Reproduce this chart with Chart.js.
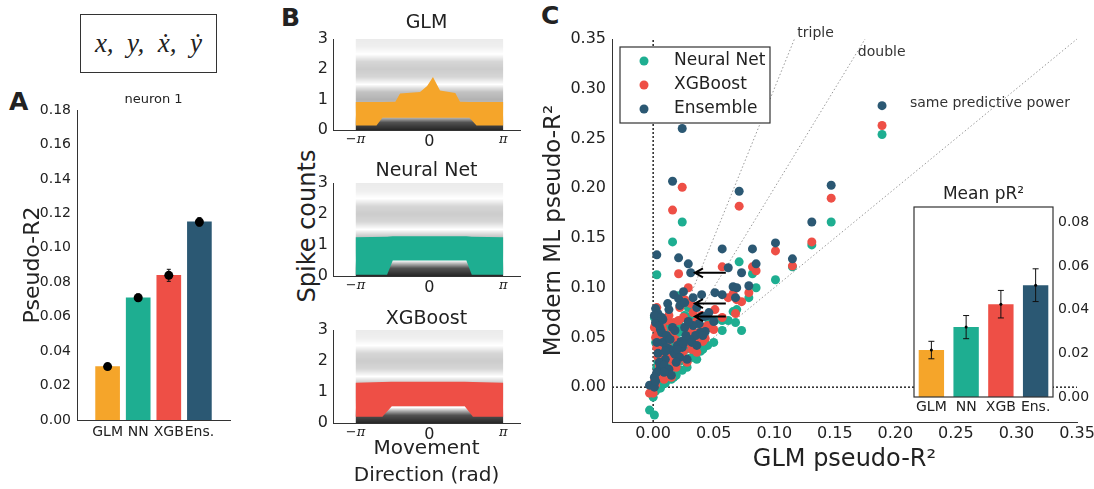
<!DOCTYPE html>
<html>
<head>
<meta charset="utf-8">
<title>Model comparison, pseudo-R2</title>
<script src="https://cdn.jsdelivr.net/npm/chart.js@4.4.1/dist/chart.umd.min.js"></script>
<style>
  html, body { margin: 0; padding: 0; background: #fff; overflow: hidden; }
  body { width: 1094px; height: 489px; position: relative; font-family: 'DejaVu Sans', sans-serif; color: #222; }
  .panel { position: absolute; }
  .letter { position: absolute; font-weight: bold; font-size: 25px; line-height: 25px; }
  #varbox {
    position: absolute; left: 80px; top: 14px; width: 135px; height: 57px;
    border: 1.5px solid #333; display: flex; align-items: center; justify-content: center;
    font-family: 'Liberation Serif', serif; font-style: italic; font-size: 27px;
  }
  #spike-label {
    position: absolute; left: 307px; top: 226px; font-size: 24px; white-space: nowrap;
    transform: translate(-50%, -50%) rotate(-90deg);
  }
</style>
</head>
<body>

<div id="varbox">x,&nbsp; y,&nbsp; ẋ,&nbsp; ẏ</div>
<div class="letter" style="left:9px; top:89px;">A</div>
<div class="letter" style="left:281px; top:5px;">B</div>
<div class="letter" style="left:541px; top:3px;">C</div>
<div id="spike-label">Spike counts</div>

<canvas class="panel" id="neuronChart" width="235" height="370" style="left:0; top:80px;"></canvas>
<canvas class="panel" id="glmSpikes" width="245" height="150" style="left:280px; top:0;"></canvas>
<canvas class="panel" id="nnSpikes" width="245" height="150" style="left:280px; top:146px;"></canvas>
<canvas class="panel" id="xgbSpikes" width="245" height="197" style="left:280px; top:292px;"></canvas>
<canvas class="panel" id="allNeurons" width="570" height="489" style="left:540px; top:0;"></canvas>
<canvas class="panel" id="meanChart" width="189" height="240" style="left:905px; top:180px;"></canvas>

<script>
// ---------------- data ----------------
const models = ['GLM', 'NN', 'XGB', 'Ens.'];
const modelColors = ['#f5a52a', '#1eae91', '#ee4f46', '#2b5873'];

// neuron 1: pseudo-R2 per model and its error
const neuron1Mean = [0.031, 0.071, 0.084, 0.115];
const neuron1Err = [0.0012, 0.0022, 0.0035, 0.0025];
const neuron1Ticks = [0, 0.02, 0.04, 0.06, 0.08, 0.10, 0.12, 0.14, 0.16, 0.18];

// observed spike counts vs movement direction (relative darkness of each count row)
const spikeLevels = [0, 1, 2, 3];
const spikeDensity = [0.85, 0.3, 0.2, 0.08];
const countTicks = [0, 1, 2, 3];
const dirTicks = [-Math.PI, 0, Math.PI];
const dirTickLabels = ['−π', '0', 'π'];

// predicted spike-count band for each model (edges along direction)
const glmBandX = [-Math.PI, -2.25, -2.0, -1.45, -1.25, -0.4, -0.1, 0.15, 0.45, 1.1, 1.3, 1.7, 2.0, Math.PI];
const glmBandTop = [0.92, 0.92, 0.92, 0.93, 1.2, 1.25, 1.45, 1.75, 1.3, 1.22, 0.93, 0.92, 0.92, 0.92];
const glmBandLow = [0.15, 0.15, 0.4, 0.4, 0.4, 0.4, 0.4, 0.4, 0.4, 0.4, 0.4, 0.4, 0.15, 0.15];

const nnBandX = [-Math.PI, -1.8, -1.56, 1.57, 1.8, Math.PI];
const nnBandTop = [1.25, 1.27, 1.28, 1.28, 1.27, 1.25];
const nnBandLow = [0.04, 0.04, 0.5, 0.5, 0.04, 0.04];

const xgbBandX = [-Math.PI, -2.0, -1.6, 1.5, 1.85, Math.PI];
const xgbBandTop = [1.3, 1.32, 1.33, 1.33, 1.32, 1.3];
const xgbBandLow = [0.2, 0.2, 0.54, 0.54, 0.2, 0.2];

// every recorded neuron: GLM pseudo-R2 and the three ML models' pseudo-R2
const glmPR2 = [0.189, 0.147, 0.131, 0.115, 0.101, 0.071, 0.024, 0.016, 0.003, 0.021,
  0.029, 0.031, 0.057, 0.062, 0.082, 0.085, 0.073, 0.066, 0.069, 0.079,
  0.068, 0.057, 0.051, 0.040, 0.033, 0.025, 0.017, 0.021, 0.012, 0.002,
  0.004, 0.038, 0.042, 0.046, 0.035, 0.026, 0.039, 0.043, 0.030, 0.024,
  0.017, 0.010, 0.006, 0.000, -0.003, 0.001, 0.008, 0.012, 0.014, 0.018,
  0.020, 0.022, 0.005, 0.003, 0.007, 0.009, 0.011, 0.013, 0.015, 0.001,
  0.002, 0.004, 0.016, 0.019, 0.023, 0.027, 0.028, 0.006, 0.010, 0.050,
  0.036, 0.045, 0.001, 0.033, 0.005, 0.008, 0.011, 0.014, 0.018, 0.020,
  0.025, 0.029, 0.032, 0.003, 0.007, 0.013, 0.022, 0.026, 0.009, 0.002,
  0.036, 0.041];
const nnPR2 = [0.254, 0.166, 0.143, 0.121, 0.108, 0.126, 0.166, 0.146, 0.113, 0.092,
  0.080, 0.071, 0.057, 0.067, 0.114, 0.100, 0.057, 0.076, 0.078, 0.090,
  0.065, 0.067, 0.067, 0.060, 0.063, 0.058, 0.050, 0.055, 0.048, 0.045,
  0.040, 0.046, 0.052, 0.067, 0.036, 0.056, 0.036, 0.044, 0.029, 0.017,
  0.010, 0.004, -0.001, -0.010, -0.023, -0.028, 0.020, 0.025, 0.030, 0.022,
  0.035, 0.026, 0.015, 0.008, 0.030, 0.012, 0.035, 0.018, 0.008, 0.002,
  0.060, 0.025, 0.040, 0.012, 0.045, 0.038, 0.020, 0.050, 0.022, 0.045,
  0.052, 0.042, 0.070, 0.040, 0.035, 0.045, 0.028, 0.020, 0.032, 0.018,
  0.030, 0.042, 0.030, 0.020, 0.055, 0.060, 0.062, 0.072, 0.004, -0.004,
  0.028, 0.038];
const xgbPR2 = [0.263, 0.190, 0.146, 0.122, 0.137, 0.182, 0.201, 0.178, 0.080, 0.114,
  0.100, 0.084, 0.121, 0.090, 0.121, 0.117, 0.086, 0.094, 0.088, 0.095,
  0.074, 0.070, 0.078, 0.072, 0.075, 0.070, 0.065, 0.067, 0.067, 0.064,
  0.054, 0.055, 0.060, 0.060, 0.044, 0.047, 0.050, 0.049, 0.044, 0.030,
  0.025, 0.018, 0.010, -0.006, -0.006, 0.001, 0.035, 0.040, 0.028, 0.030,
  0.038, 0.033, 0.022, 0.012, 0.045, 0.020, 0.030, 0.015, 0.010, 0.006,
  0.050, 0.030, 0.055, 0.020, 0.040, 0.045, 0.025, 0.040, 0.032, 0.058,
  0.066, 0.062, 0.060, 0.055, 0.050, 0.058, 0.045, 0.035, 0.048, 0.026,
  0.036, 0.058, 0.038, 0.040, 0.062, 0.072, 0.080, 0.088, 0.008, 0.002,
  0.035, 0.046];
const ensPR2 = [0.283, 0.203, 0.166, 0.129, 0.145, 0.197, 0.260, 0.207, 0.133, 0.130,
  0.124, 0.115, 0.139, 0.120, 0.139, 0.124, 0.115, 0.101, 0.100, 0.102,
  0.090, 0.093, 0.095, 0.093, 0.090, 0.096, 0.093, 0.089, 0.084, 0.079,
  0.074, 0.064, 0.071, 0.075, 0.052, 0.060, 0.055, 0.056, 0.048, 0.040,
  0.035, 0.028, 0.020, 0.003, 0.002, 0.000, 0.045, 0.050, 0.038, 0.033,
  0.042, 0.030, 0.025, 0.015, 0.055, 0.022, 0.040, 0.018, 0.012, 0.010,
  0.065, 0.034, 0.060, 0.025, 0.046, 0.052, 0.028, 0.058, 0.036, 0.066,
  0.080, 0.072, 0.072, 0.062, 0.062, 0.068, 0.052, 0.048, 0.057, 0.038,
  0.044, 0.066, 0.045, 0.045, 0.070, 0.078, 0.082, 0.085, 0.015, 0.006,
  0.042, 0.052];
const neuron1Index = 11;

// reference lines: ML pseudo-R2 = ratio * GLM pseudo-R2
const ratioLines = [1, 2, 3];
const ratioNames = ['same predictive power', 'double', 'triple'];
const pr2Ticks = [0, 0.05, 0.10, 0.15, 0.20, 0.25, 0.30, 0.35];

// mean pseudo-R2 over all neurons
const meanPR2 = [0.0215, 0.032, 0.0425, 0.0512];
const meanErr = [0.004, 0.0053, 0.0063, 0.0075];
const meanTicks = [0, 0.02, 0.04, 0.06, 0.08];

// ---------------- helpers ----------------
Chart.defaults.font.family = "'DejaVu Sans', sans-serif";
Chart.defaults.color = '#222';
Chart.defaults.animation = false;
Chart.defaults.devicePixelRatio = 1;
Chart.defaults.plugins.legend.display = false;
Chart.defaults.plugins.tooltip.enabled = false;

const AXIS = '#333';
const zip = (xs, ys) => xs.map((x, i) => ({ x, y: ys[i] }));
const fixedTicks = (values) => (scale) => { scale.ticks = values.map(v => ({ value: v })); };

// title centred over the plot area (not the whole canvas)
const areaTitle = {
  id: 'areaTitle',
  afterDraw(chart, args, opts) {
    if (!opts.text) return;
    const { ctx, chartArea: a } = chart;
    ctx.save();
    ctx.font = `${opts.size}px 'DejaVu Sans', sans-serif`;
    ctx.fillStyle = '#222';
    ctx.textAlign = 'center';
    ctx.textBaseline = 'middle';
    ctx.fillText(opts.text, (a.left + a.right) / 2, a.top - opts.offset);
    ctx.restore();
  }
};

// black markers with vertical error lines, drawn on top of bars
function errorBarPlugin(means, errs, xOf, opts) {
  return {
    id: 'errorBars',
    afterDatasetsDraw(chart) {
      const { ctx, scales: { x, y } } = chart;
      ctx.save();
      ctx.strokeStyle = '#111';
      ctx.fillStyle = '#000';
      ctx.lineWidth = opts.width;
      means.forEach((m, i) => {
        const px = x.getPixelForValue(xOf(i));
        const top = y.getPixelForValue(m + errs[i]);
        const bot = y.getPixelForValue(m - errs[i]);
        ctx.beginPath();
        ctx.moveTo(px, top); ctx.lineTo(px, bot);
        ctx.moveTo(px - opts.cap, top); ctx.lineTo(px + opts.cap, top);
        ctx.moveTo(px - opts.cap, bot); ctx.lineTo(px + opts.cap, bot);
        ctx.stroke();
        if (opts.dot) {
          ctx.beginPath();
          ctx.arc(px, y.getPixelForValue(m), opts.dot, 0, Math.PI * 2);
          ctx.fill();
        }
      });
      ctx.restore();
    }
  };
}

// ---------------- A: neuron 1 ----------------
new Chart(document.getElementById('neuronChart'), {
  type: 'bar',
  data: {
    labels: ['', ...models, ''],
    datasets: [{
      data: [null, ...neuron1Mean, null],
      backgroundColor: ['transparent', ...modelColors, 'transparent'],
      barThickness: 24
    }]
  },
  options: {
    responsive: false,
    layout: { padding: { top: 30, right: 5 } },
    plugins: { areaTitle: { text: 'neuron 1', size: 13, offset: 10 } },
    scales: {
      x: {
        offset: false,
        grid: { display: false, drawTicks: false },
        border: { color: AXIS },
        ticks: { font: { size: 14 }, padding: 4, autoSkip: false, maxRotation: 0 },
        afterFit: (s) => { s.height = 30; }
      },
      y: {
        min: 0, max: 0.18,
        afterBuildTicks: fixedTicks(neuron1Ticks),
        grid: { display: false, drawTicks: false },
        border: { color: AXIS },
        ticks: { font: { size: 14 }, padding: 6, callback: (v) => v.toFixed(2) },
        title: { display: true, text: 'Pseudo-R2', font: { size: 22 }, padding: { top: 20, bottom: 0 } },
        afterFit: (s) => { s.width = 77; }
      }
    }
  },
  plugins: [areaTitle, errorBarPlugin(neuron1Mean, neuron1Err, (i) => i + 1, { width: 1, cap: 2, dot: 4.5 })]
});

// ---------------- B: spike counts vs direction ----------------
// soft vertical shading: one fuzzy row per observed count
function spikeCloud(context) {
  const chart = context.chart;
  const { ctx, chartArea, scales: { y } } = chart;
  if (!chartArea) return 'rgba(0,0,0,0.2)';
  const y0 = y.getPixelForValue(0);
  const y3 = y.getPixelForValue(3);
  const g = ctx.createLinearGradient(0, y0, 0, y3);
  const profile = [[-0.5, 0], [-0.38, 0.4], [-0.25, 0.8], [0, 1], [0.25, 0.8], [0.38, 0.4], [0.5, 0]];
  spikeLevels.forEach((lvl, i) => {
    profile.forEach(([dy, k]) => {
      const v = lvl + dy;
      if (v >= 0 && v <= 3) g.addColorStop(v / 3, `rgba(0,0,0,${(spikeDensity[i] * k).toFixed(3)})`);
    });
  });
  return g;
}

function spikeChart(id, title, color, bandX, bandTop, bandLow, layout) {
  const xTitle = layout.xTitle
    ? { display: true, text: layout.xTitle, font: { size: 20, lineHeight: 1.35 }, padding: { top: 0, bottom: 0 } }
    : { display: false };
  return new Chart(document.getElementById(id), {
    type: 'line',
    data: {
      datasets: [
        {
          // observed counts
          data: [{ x: -Math.PI, y: 3 }, { x: Math.PI, y: 3 }],
          fill: 'origin', backgroundColor: spikeCloud, borderWidth: 0, pointRadius: 0, order: 2
        },
        {
          data: zip(bandX, bandLow), borderWidth: 0, pointRadius: 0, fill: false, order: 1
        },
        {
          // model prediction
          data: zip(bandX, bandTop), borderWidth: 0, pointRadius: 0,
          fill: '-1', backgroundColor: color, order: 0
        }
      ]
    },
    options: {
      responsive: false,
      layout: { padding: { top: layout.top, right: 5 } },
      plugins: {
        filler: { drawTime: 'beforeDatasetDraw' },
        areaTitle: { text: title, size: 19, offset: layout.titleOffset }
      },
      scales: {
        x: {
          type: 'linear', min: -4.1, max: 3.85,
          afterBuildTicks: fixedTicks(dirTicks),
          grid: { display: false, drawTicks: false },
          border: { color: AXIS },
          ticks: {
            padding: 2,
            font: (c) => (c.tick && c.tick.value === 0)
              ? { size: 16 }
              : { size: 13, family: "'DejaVu Serif', serif", style: 'italic' },
            callback: (v, i) => dirTickLabels[i]
          },
          title: xTitle,
          afterFit: (s) => { s.height = layout.xHeight; }
        },
        y: {
          min: 0, max: 3,
          afterBuildTicks: fixedTicks(countTicks),
          grid: { display: false, drawTicks: false },
          border: { color: AXIS },
          ticks: { font: { size: 16 }, padding: 5 },
          afterFit: (s) => { s.width = 53; }
        }
      }
    },
    plugins: [areaTitle]
  });
}

spikeChart('glmSpikes', 'GLM', modelColors[0], glmBandX, glmBandTop, glmBandLow,
  { top: 39, titleOffset: 16, xHeight: 20 });
spikeChart('nnSpikes', 'Neural Net', modelColors[1], nnBandX, nnBandTop, nnBandLow,
  { top: 37, titleOffset: 12, xHeight: 20 });
spikeChart('xgbSpikes', 'XGBoost', modelColors[2], xgbBandX, xgbBandTop, xgbBandLow,
  { top: 38, titleOffset: 11, xHeight: 66, xTitle: ['Movement', 'Direction (rad)'] });

// ---------------- C: all neurons ----------------
const cLegend = {
  id: 'cLegend',
  afterDraw(chart) {
    const { ctx, chartArea } = chart;
    const entries = chart.data.datasets.filter(d => d.type === 'scatter');
    const x0 = chartArea.left + 8, y0 = chartArea.top + 8, w = 150, rowH = 24;
    const h = entries.length * rowH + 4;
    ctx.save();
    ctx.fillStyle = '#fff';
    ctx.fillRect(x0, y0, w, h);
    ctx.strokeStyle = '#333';
    ctx.lineWidth = 1.2;
    ctx.strokeRect(x0, y0, w, h);
    ctx.font = "17px 'DejaVu Sans', sans-serif";
    ctx.textBaseline = 'middle';
    entries.forEach((d, i) => {
      const cy = y0 + 14 + i * rowH;
      ctx.beginPath();
      ctx.arc(x0 + 24, cy, 4.5, 0, Math.PI * 2);
      ctx.fillStyle = d.backgroundColor;
      ctx.fill();
      ctx.fillStyle = '#222';
      ctx.fillText(d.label, x0 + 54, cy);
    });
    ctx.restore();
  }
};

// names of the ratio lines and the arrows marking neuron 1
const cNotes = {
  id: 'cNotes',
  afterDraw(chart, args, opts) {
    const { ctx, scales: { x, y } } = chart;
    ctx.save();
    ctx.font = "14px 'DejaVu Sans', sans-serif";
    ctx.fillStyle = '#333';
    ctx.textBaseline = 'middle';
    opts.labels.forEach((l, i) => {
      ctx.fillText(ratioNames[i], x.getPixelForValue(l.x), y.getPixelForValue(l.y));
    });
    const gx = glmPR2[neuron1Index];
    const tips = [ensPR2[neuron1Index], xgbPR2[neuron1Index], nnPR2[neuron1Index]];
    ctx.strokeStyle = '#000';
    ctx.lineWidth = 2;
    tips.forEach((v) => {
      const py = y.getPixelForValue(v);
      const tx = x.getPixelForValue(gx + 0.0035);
      const sx = x.getPixelForValue(gx + 0.029);
      ctx.beginPath();
      ctx.moveTo(sx, py); ctx.lineTo(tx, py);
      ctx.moveTo(tx + 8, py - 4.5); ctx.lineTo(tx, py); ctx.lineTo(tx + 8, py + 4.5);
      ctx.stroke();
    });
    ctx.restore();
  }
};

const dotted = { borderDash: [1.5, 2.2], borderWidth: 1, borderColor: '#999', pointRadius: 0, fill: false, order: 5 };
const zeroLine = { borderDash: [2, 2], borderWidth: 1.6, borderColor: '#333', pointRadius: 0, fill: false, order: 5 };

new Chart(document.getElementById('allNeurons'), {
  type: 'line',
  data: {
    datasets: [
      { ...zeroLine, data: [{ x: 0, y: -0.035 }, { x: 0, y: 0.35 }] },
      { ...zeroLine, data: [{ x: -0.034, y: 0 }, { x: 0.35, y: 0 }] },
      ...ratioLines.map(r => ({ ...dotted, data: [{ x: 0, y: 0 }, { x: 0.35 / r, y: 0.35 }] })),
      { type: 'scatter', label: 'Neural Net', data: zip(glmPR2, nnPR2), backgroundColor: modelColors[1], pointRadius: 4.5, borderWidth: 0, order: 2 },
      { type: 'scatter', label: 'XGBoost', data: zip(glmPR2, xgbPR2), backgroundColor: modelColors[2], pointRadius: 4.5, borderWidth: 0, order: 1 },
      { type: 'scatter', label: 'Ensemble', data: zip(glmPR2, ensPR2), backgroundColor: modelColors[3], pointRadius: 4.5, borderWidth: 0, order: 0 }
    ]
  },
  options: {
    responsive: false,
    clip: false,
    layout: { padding: { top: 39, right: 33 } },
    plugins: {
      cNotes: {
        labels: [{ x: 0.212, y: 0.285 }, { x: 0.169, y: 0.337 }, { x: 0.119, y: 0.356 }]
      }
    },
    scales: {
      x: {
        type: 'linear', min: -0.034, max: 0.35,
        afterBuildTicks: fixedTicks(pr2Ticks),
        grid: { display: false, drawTicks: false },
        border: { color: AXIS },
        ticks: { font: { size: 16 }, padding: 2, callback: (v) => v.toFixed(2) },
        title: { display: true, text: 'GLM pseudo-R²', font: { size: 24 }, padding: { top: 0, bottom: 15 } },
        afterFit: (s) => { s.height = 67; }
      },
      y: {
        type: 'linear', min: -0.035, max: 0.35,
        afterBuildTicks: fixedTicks(pr2Ticks),
        grid: { display: false, drawTicks: false },
        border: { color: AXIS },
        ticks: { font: { size: 16 }, padding: 6, callback: (v) => v.toFixed(2) },
        title: { display: true, text: 'Modern ML pseudo-R²', font: { size: 23 }, padding: { top: 0, bottom: 0 } },
        afterFit: (s) => { s.width = 72; }
      }
    }
  },
  plugins: [cLegend, cNotes]
});

// ---------------- C inset: mean over neurons ----------------
const insetFrame = {
  id: 'insetFrame',
  beforeDatasetsDraw(chart) {
    const { ctx, chartArea: a } = chart;
    ctx.save();
    ctx.fillStyle = '#fff';
    ctx.fillRect(a.left, a.top, a.right - a.left, a.bottom - a.top);
    ctx.restore();
  },
  afterDraw(chart) {
    const { ctx, chartArea: a } = chart;
    ctx.save();
    ctx.strokeStyle = '#333';
    ctx.lineWidth = 1.2;
    ctx.strokeRect(a.left, a.top, a.right - a.left, a.bottom - a.top);
    ctx.restore();
  }
};

new Chart(document.getElementById('meanChart'), {
  type: 'bar',
  data: {
    labels: models,
    datasets: [{ data: meanPR2, backgroundColor: modelColors, barPercentage: 0.73, categoryPercentage: 1 }]
  },
  options: {
    responsive: false,
    layout: { padding: { left: 9, top: 27 } },
    plugins: { areaTitle: { text: 'Mean pR²', size: 17, offset: 12 } },
    scales: {
      x: {
        grid: { display: false, drawTicks: false },
        border: { display: false },
        ticks: { font: { size: 14 }, padding: 2, autoSkip: false, maxRotation: 0 },
        afterFit: (s) => { s.height = 23; }
      },
      y: {
        position: 'right', min: 0, max: 0.087,
        afterBuildTicks: fixedTicks(meanTicks),
        grid: { display: false, drawTicks: false },
        border: { display: false },
        ticks: { font: { size: 14 }, padding: 5, callback: (v) => v.toFixed(2) },
        afterFit: (s) => { s.width = 41; }
      }
    }
  },
  plugins: [areaTitle, insetFrame, errorBarPlugin(meanPR2, meanErr, (i) => i, { width: 1, cap: 3, dot: 1.5 })]
});
</script>
</body>
</html>
